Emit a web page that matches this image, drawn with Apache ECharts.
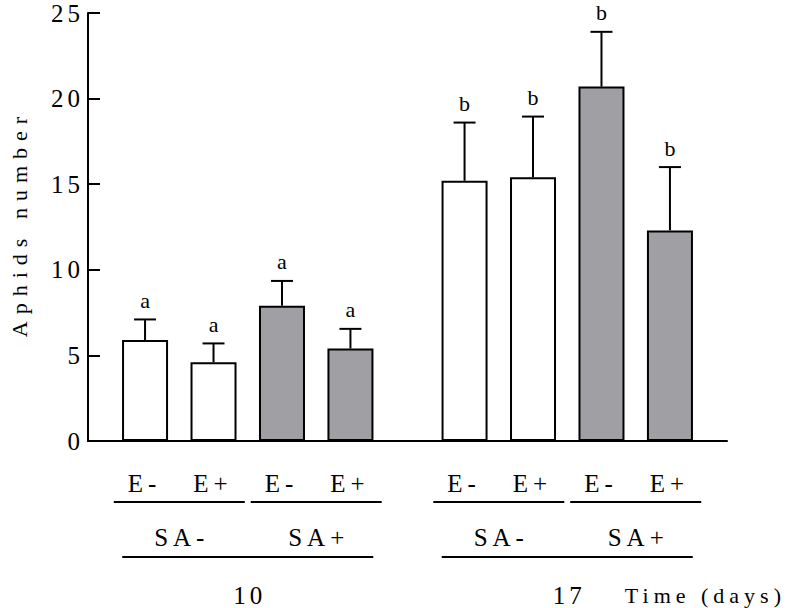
<!DOCTYPE html>
<html>
<head>
<meta charset="utf-8">
<script src="https://cdn.jsdelivr.net/npm/echarts@6/dist/echarts.min.js"></script>
<style>
  html, body { margin: 0; padding: 0; background: #fff; }
  #chart { width: 793px; height: 608px; }
  #chart text { font-family: "Liberation Serif", serif !important; }
</style>
</head>
<body>
<div id="chart"></div>
<script>
// ---- data ----
const days = ['10', '17'];
const saLevels = ['SA-', 'SA+'];
const eLevels = ['E-', 'E+'];
const means = [5.9, 4.6, 7.9, 5.4, 15.2, 15.4, 20.7, 12.3];
const errors = [1.2, 1.1, 1.45, 1.15, 3.4, 3.55, 3.2, 3.7];
const letters = ['a', 'a', 'a', 'a', 'b', 'b', 'b', 'b'];
const yTicks = [0, 5, 10, 15, 20, 25];
const yTitle = 'Aphids number';
const xTitle = 'Time (days)';

// ---- layout / style ----
const FONT = 'Liberation Serif';
const fillColors = ['#ffffff', '#a0a0a4'];
const SLOT = 3, GAP = 2, OFFSET = 2.5, XMAX = 28;
const perDay = saLevels.length * eLevels.length;
const pos = i => OFFSET + SLOT * i + Math.floor(i / perDay) * GAP;

const chart = echarts.init(document.getElementById('chart'), null, { renderer: 'svg' });

const barData = means.map((m, i) => ({
  value: [pos(i), m],
  itemStyle: { color: fillColors[Math.floor(i / eLevels.length) % saLevels.length] }
}));
const errData = means.map((m, i) => [pos(i), m, errors[i]]);

chart.setOption({
  animation: false,
  textStyle: { fontFamily: FONT },
  grid: { left: 83, right: 66, top: 13, bottom: 167, containLabel: false },
  xAxis: {
    type: 'value', min: 0, max: XMAX,
    axisLine: { show: true, onZero: false, lineStyle: { color: '#000', width: 2 } },
    axisTick: { show: false }, axisLabel: { show: false }, splitLine: { show: false }
  },
  yAxis: {
    type: 'value', min: yTicks[0], max: yTicks[yTicks.length - 1], interval: yTicks[1] - yTicks[0],
    name: yTitle, nameLocation: 'middle', nameGap: 58, nameRotate: 90,
    nameTextStyle: { fontFamily: FONT, fontSize: 22, color: '#000' },
    axisLine: { show: true, lineStyle: { color: '#000', width: 2 } },
    axisTick: { show: true, inside: true, length: 12, lineStyle: { color: '#000', width: 2 } },
    axisLabel: { margin: 8, fontFamily: FONT, fontSize: 25, color: '#000' },
    splitLine: { show: false }
  },
  series: [
    {
      type: 'bar', data: barData, barWidth: 46,
      itemStyle: { borderColor: '#000', borderWidth: 2 },
      silent: true
    },
    {
      type: 'custom', data: errData, silent: true, z: 3,
      renderItem: function (params, api) {
        const x = api.value(0), m = api.value(1), e = api.value(2);
        const b = api.coord([x, m]);
        const t = api.coord([x, m + e]);
        const st = { stroke: '#000', lineWidth: 2 };
        return {
          type: 'group',
          children: [
            { type: 'line', shape: { x1: b[0], y1: b[1], x2: t[0], y2: t[1] }, style: st },
            { type: 'line', shape: { x1: t[0] - 11, y1: t[1], x2: t[0] + 11, y2: t[1] }, style: st },
            { type: 'text', style: { text: letters[params.dataIndex], x: t[0], y: t[1] - 19,
              align: 'center', verticalAlign: 'middle', fontSize: 22, fontFamily: FONT, fill: '#000' } }
          ]
        };
      }
    }
  ]
});

// ---- hierarchical category labels below the axis ----
const px = u => chart.convertToPixel({ xAxisIndex: 0 }, u);
const base = chart.convertToPixel({ yAxisIndex: 0 }, 0);
const graphics = [];
const txt = (s, x, y, size, align) => graphics.push({
  type: 'text', silent: true,
  style: { text: s, x: x, y: y, align: align || 'center', verticalAlign: 'middle',
           fontSize: size, fontFamily: FONT, fill: '#000' }
});
const hline = (x1, x2, y) => graphics.push({
  type: 'line', silent: true, shape: { x1: x1, y1: y, x2: x2, y2: y }, style: { stroke: '#000', lineWidth: 2 }
});
means.forEach((m, i) => txt(eLevels[i % eLevels.length], px(pos(i)) - 3, base + 42, 25));
const nPairs = days.length * saLevels.length;
for (let p = 0; p < nPairs; p++) {
  const c = (pos(p * 2) + pos(p * 2 + 1)) / 2;
  hline(px(c - 2.87), px(c + 2.87), base + 61);
  txt(saLevels[p % saLevels.length], px(c), base + 96, 25);
}
days.forEach((d, k) => {
  const c = (pos(k * perDay) + pos(k * perDay + perDay - 1)) / 2;
  hline(px(c - 5.5), px(c + 5.5), base + 116);
  txt(d, px(c), base + 154, 25);
});
txt(xTitle, chart.getWidth() - 12, base + 154, 22, 'right');
chart.setOption({ graphic: graphics });

// ---- letter spacing (SVG text) ----
const spacing = s => {
  if (s === yTitle) return 7;
  if (s === xTitle) return 5;
  if (/^[ab]$/.test(s)) return 0;
  if (/^\d+$/.test(s)) return 4;
  return 5;
};
function applySpacing() {
  document.querySelectorAll('#chart text').forEach(t => {
    const sp = spacing(t.textContent.trim());
    t.style.letterSpacing = sp + 'px';
    const anchor = t.getAttribute('text-anchor') || 'start';
    let shift = 0;
    if (anchor === 'middle') shift = sp / 2;
    else if (anchor === 'end') shift = sp;
    if (shift) t.setAttribute('dx', shift);
  });
}
applySpacing();
chart.on('finished', applySpacing);
setTimeout(applySpacing, 50);
</script>
</body>
</html>
